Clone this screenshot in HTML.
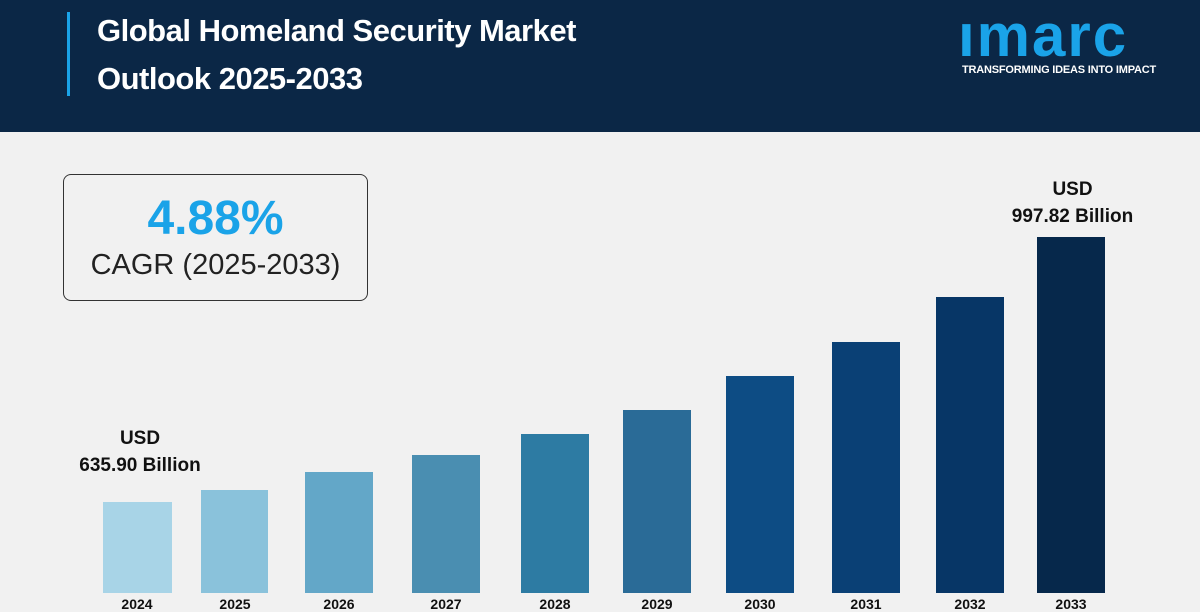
<!DOCTYPE html>
<html><head><style>
body{margin:0;width:1200px;height:600px;overflow:hidden;background:#f1f1f1;font-family:"Liberation Sans",sans-serif;position:relative}
.hdr{position:absolute;left:0;top:0;width:1200px;height:132px;background:#0b2746}
.vl{position:absolute;left:67px;top:12px;width:3px;height:84px;background:#1aa3e8}
.t{position:absolute;left:97px;color:#fff;font-weight:bold;font-size:31px;letter-spacing:-0.5px}
.logo{position:absolute;left:958px;top:6px;color:#1aa3e8;font-size:60px;font-weight:bold;letter-spacing:2px;line-height:60px}
.tag{position:absolute;left:962px;top:64px;color:#fff;font-size:11px;font-weight:bold;letter-spacing:-0.2px}
.box{position:absolute;left:63px;top:174px;width:305px;height:127px;border:1.5px solid #333;border-radius:8px;box-sizing:border-box;text-align:center}
.bar{position:absolute;bottom:7px}
.lbl{position:absolute;font-weight:bold;font-size:19px;color:#111;text-align:center;line-height:27px}
.yr{position:absolute;top:596px;font-weight:bold;font-size:14px;color:#111;text-align:center;width:68px}
</style></head><body>
<div class="hdr">
<div class="vl"></div>
<div class="t" style="top:13px">Global Homeland Security Market</div>
<div class="t" style="top:61px">Outlook 2025-2033</div>
<div class="logo">ımarc</div>
<div class="tag">TRANSFORMING IDEAS INTO IMPACT</div>
</div>
<div class="box">
<div style="color:#1aa3e8;font-weight:bold;font-size:48px;margin-top:18px;line-height:52px">4.88%</div>
<div style="color:#222;font-size:29px;margin-top:4px">CAGR (2025-2033)</div>
</div>
<div class="lbl" style="left:60px;top:425px;width:160px">USD<br>635.90 Billion</div>
<div class="lbl" style="left:990px;top:176px;width:165px">USD<br>997.82 Billion</div>
<div class="bar" style="left:103px;width:69px;top:502px;background:#a8d4e7"></div>
<div class="bar" style="left:201px;width:67px;top:490px;background:#8ac2db"></div>
<div class="bar" style="left:305px;width:68px;top:472px;background:#63a7c8"></div>
<div class="bar" style="left:412px;width:68px;top:455px;background:#4a8eb1"></div>
<div class="bar" style="left:521px;width:68px;top:434px;background:#2d7ba3"></div>
<div class="bar" style="left:623px;width:68px;top:410px;background:#2a6b97"></div>
<div class="bar" style="left:726px;width:68px;top:376px;background:#0d4c84"></div>
<div class="bar" style="left:832px;width:68px;top:342px;background:#0a4075"></div>
<div class="bar" style="left:936px;width:68px;top:297px;background:#073666"></div>
<div class="bar" style="left:1037px;width:68px;top:237px;background:#06284b"></div>
<div class="yr" style="left:103px">2024</div>
<div class="yr" style="left:201px">2025</div>
<div class="yr" style="left:305px">2026</div>
<div class="yr" style="left:412px">2027</div>
<div class="yr" style="left:521px">2028</div>
<div class="yr" style="left:623px">2029</div>
<div class="yr" style="left:726px">2030</div>
<div class="yr" style="left:832px">2031</div>
<div class="yr" style="left:936px">2032</div>
<div class="yr" style="left:1037px">2033</div>
</body></html>
